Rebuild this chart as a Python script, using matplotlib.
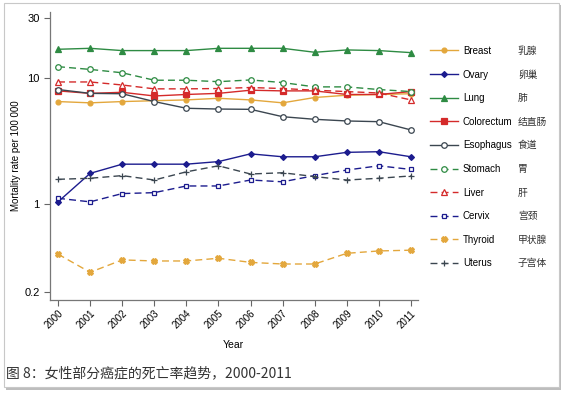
import matplotlib
matplotlib.use('Agg')
import matplotlib.pyplot as plt
from matplotlib.patches import Rectangle

plt.rcParams['font.family'] = ['Liberation Sans', 'Noto Sans CJK SC', 'DejaVu Sans']

years = list(range(2000, 2012))

# 死亡率 (per 100 000)
breast     = [6.5, 6.35, 6.5, 6.6, 6.7, 6.9, 6.7, 6.35, 7.0, 7.3, 7.4, 7.5]
ovary      = [1.04, 1.75, 2.07, 2.07, 2.07, 2.17, 2.5, 2.37, 2.37, 2.57, 2.6, 2.37]
lung       = [16.9, 17.2, 16.5, 16.5, 16.5, 17.2, 17.2, 17.2, 16.0, 16.7, 16.5, 15.9]
colorectum = [7.9, 7.55, 7.7, 7.2, 7.4, 7.55, 8.0, 7.9, 7.9, 7.4, 7.4, 7.8]
esophagus  = [8.1, 7.55, 7.5, 6.5, 5.75, 5.67, 5.64, 4.93, 4.7, 4.56, 4.5, 3.87]
stomach    = [12.3, 11.7, 11.0, 9.6, 9.6, 9.35, 9.65, 9.2, 8.5, 8.5, 8.1, 7.8]
liver      = [9.3, 9.3, 8.8, 8.2, 8.2, 8.25, 8.4, 8.25, 8.0, 7.8, 7.6, 6.7]
cervix     = [1.11, 1.04, 1.21, 1.23, 1.39, 1.39, 1.55, 1.5, 1.68, 1.86, 2.01, 1.88]
thyroid    = [0.40, 0.287, 0.36, 0.353, 0.353, 0.371, 0.344, 0.334, 0.334, 0.406, 0.424, 0.43]
uterus     = [1.57, 1.6, 1.68, 1.55, 1.8, 2.01, 1.73, 1.77, 1.65, 1.55, 1.6, 1.67]

names_en = ['Breast', 'Ovary', 'Lung', 'Colorectum', 'Esophagus',
            'Stomach', 'Liver', 'Cervix', 'Thyroid', 'Uterus']
names_cn = ['乳腺', '卵巢', '肺', '结直肠', '食道', '胃', '肝', '宫颈', '甲状腺', '子宫体']
series = [breast, ovary, lung, colorectum, esophagus, stomach, liver, cervix, thyroid, uterus]

orange = '#E3A73C'
navy = '#1C1C8E'
green = '#2E8B43'
red = '#D42A2A'
grey = '#3B4650'
styles = [
    dict(color=orange, ls='-', marker='o', mfc=orange, ms=3.5),
    dict(color=navy, ls='-', marker='D', mfc=navy, ms=3),
    dict(color=green, ls='-', marker='^', mfc=green, ms=4),
    dict(color=red, ls='-', marker='s', mfc=red, ms=4),
    dict(color=grey, ls='-', marker='o', mfc='white', ms=4),
    dict(color=green, ls=(0, (5, 3)), marker='o', mfc='white', ms=4),
    dict(color=red, ls=(0, (5, 3)), marker='^', mfc='white', ms=4),
    dict(color=navy, ls=(0, (5, 3)), marker='s', mfc='white', ms=3.5),
    dict(color=orange, ls=(0, (5, 3)), marker='X', mfc=orange, ms=4),
    dict(color=grey, ls=(0, (5, 3)), marker='+', mfc=grey, ms=5),
]

fig = plt.figure(figsize=(5.68, 3.95), dpi=100)
fig.patch.set_facecolor('white')

# frame with light shadow
fig.patches.append(Rectangle((6 / 568, 1 - 390 / 395), 555 / 568, 385 / 395,
                             transform=fig.transFigure, facecolor='#bdbdbd',
                             edgecolor='none', zorder=-2))
fig.patches.append(Rectangle((4 / 568, 1 - 387 / 395), 555 / 568, 384 / 395,
                             transform=fig.transFigure, facecolor='white',
                             edgecolor='#c8c8c8', lw=0.8, zorder=-1))

ax = fig.add_axes([50 / 568, 1 - 300 / 395, 368 / 568, 288 / 395])
ax.set_facecolor('none')

for name, vals, st in zip(names_en, series, styles):
    ax.plot(years, vals, label=name, lw=1.0, mew=0.9, mec=st['color'], **st)

ax.set_yscale('log')
ax.set_ylim(0.173, 33.4)
ax.set_xlim(1999.75, 2011.22)
ax.set_yticks([0.2, 1, 10, 30])
ax.set_yticklabels(['0.2', '1', '10', '30'])
ax.yaxis.set_minor_locator(matplotlib.ticker.NullLocator())
ax.set_xticks(years)
ax.set_xticklabels([str(y) for y in years], rotation=45, ha='right',
                   rotation_mode='anchor', fontsize=7)
ax.tick_params(axis='y', labelsize=8, length=4, color='#666666')
ax.tick_params(axis='x', length=4, color='#666666', pad=2)
for s in ['top', 'right']:
    ax.spines[s].set_visible(False)
for s in ['left', 'bottom']:
    ax.spines[s].set_color('#777777')
    ax.spines[s].set_linewidth(0.9)

ax.set_ylabel('Mortality rate per 100 000', fontsize=7)
ax.yaxis.set_label_coords((21 - 50) / 368, 0.5)
ax.set_xlabel('Year', fontsize=7.5)
ax.xaxis.set_label_coords((233 - 50) / 368, -0.14)

leg = fig.legend(loc='upper left', bbox_to_anchor=(426 / 568, 1 - 42 / 395),
                 frameon=False, fontsize=7, handlelength=2.9,
                 labelspacing=1.4, handletextpad=0.5, borderaxespad=0)
fig.canvas.draw()
r = fig.canvas.get_renderer()
for t, cn in zip(leg.get_texts(), names_cn):
    bb = t.get_window_extent(r)
    yc = (bb.y0 + bb.y1) / 2 / fig.bbox.height
    fig.text(518 / 568, yc, cn, fontsize=7, va='center', ha='left',
             family=['Noto Sans CJK SC'], color='#333333')

fig.text(6 / 568, 1 - 373 / 395, '图 8：女性部分癌症的死亡率趋势，2000-2011',
         fontsize=10, va='center', ha='left', color='#333333',
         family=['Noto Sans CJK SC', 'DejaVu Sans'])

fig.savefig('out.png', dpi=100)
